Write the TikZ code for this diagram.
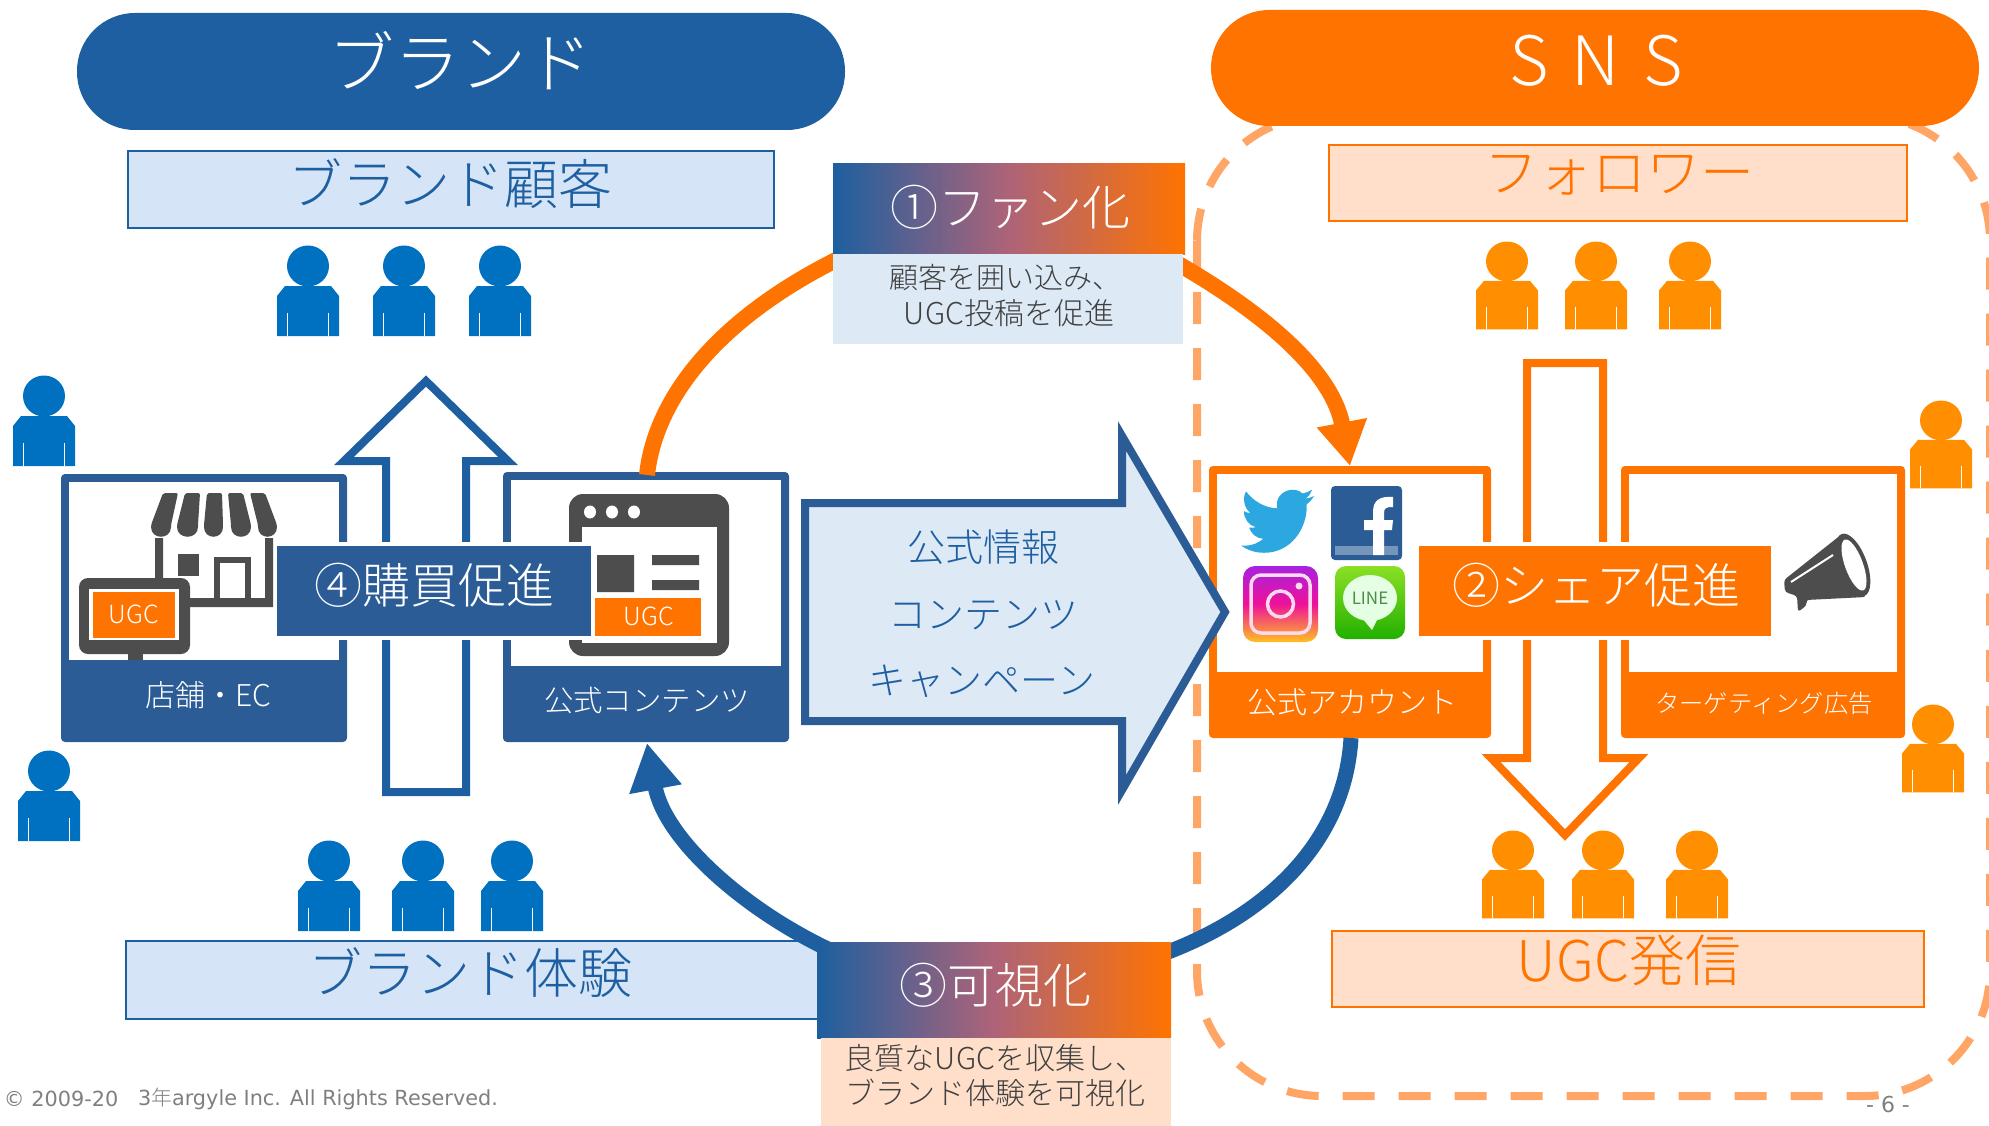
\documentclass[tikz,border=0pt]{standalone}
\usepackage{fontspec}
\setmainfont{Noto Sans CJK JP Light}
\newfontfamily\latinfoot{DejaVu Sans}
\newfontfamily\boldjp{Noto Sans CJK JP}
\usetikzlibrary{arrows.meta}
\definecolor{brandblue}{HTML}{1D5FA0}
\definecolor{boxblue}{HTML}{2C5C96}
\definecolor{brandorange}{HTML}{FF7300}
\definecolor{gradmid}{HTML}{AE6378}
\definecolor{lightblue}{HTML}{D5E5F7}
\definecolor{paleblue}{HTML}{DDE9F5}
\definecolor{lightorange}{HTML}{FFDFC9}
\definecolor{personblue}{HTML}{0070C0}
\definecolor{personorange}{HTML}{FF8F00}
\definecolor{dashorange}{HTML}{FFA566}
\definecolor{icongrey}{HTML}{4D4D4D}
\definecolor{textgrey}{HTML}{404040}
\definecolor{footgrey}{HTML}{7F7F7F}
\definecolor{twblue}{HTML}{2CA7E0}
\newcommand{\sz}[1]{\fontsize{#1}{#1}\selectfont}
\newcommand{\personfig}[4]{%
  \begin{scope}[shift={(#1,#2)},yscale=#4]
    \fill[#3] (0,20) ellipse (21 and 20.5);
    \fill[#3] (-23,40) -- (23,40) -- (31,50) -- (31,90) -- (-31,90) -- (-31,50) -- cycle;
    \draw[white,line width=1.6] (-20.5,67) -- (-20.5,90) (20.5,67) -- (20.5,90);
  \end{scope}}
\tikzset{
  box/.style={rectangle,inner sep=0,outer sep=0},
  txt/.style={inner sep=0,outer sep=0,align=center},
  banner/.style={box,rounded corners=58},
  frame/.style={box,rounded corners=4},
  inner/.style={box,fill=white},
  hollow/.style={line width=8,miter limit=10,line join=miter},
  flowo/.style={line width=16,brandorange},
  flowb/.style={line width=15,brandblue},
  gradbox/.style={box,left color=brandblue,right color=brandorange,middle color=gradmid},
}
\begin{document}
\begin{tikzpicture}[x=1pt,y=-1pt]
\useasboundingbox (0,0) rectangle (1989,1126);
% dashed region
\draw[dashorange,line width=8,dash pattern=on 32 off 24,dash phase=5,rounded corners=125] (1197,116) rectangle (1990,1096);
% banners
\node[banner,fill=brandblue,minimum width=768,minimum height=117] (bb) at (461,71.5) {};
\node[txt,white,font=\sz{66}] (bbt) at (460,61) {ブランド};
\node[banner,fill=brandorange,minimum width=768,minimum height=116] (sb) at (1595,68) {};
\node[txt,white,font=\sz{68}] (sbt) at (1596,61) {S\ \hspace{8pt}N\ \hspace{8pt}S};
% audience boxes
\node[box,draw=brandblue,line width=2.5,fill=lightblue,minimum width=646,minimum height=77] (cust) at (451,189.5) {};
\node[txt,brandblue,font=\sz{54}] at (450,184) {ブランド顧客};
\node[box,draw=brandorange,line width=2.5,fill=lightorange,minimum width=578,minimum height=76] (foll) at (1618,183) {};
\node[txt,brandorange,font=\sz{54}] at (1619,175) {フォロワー};
\node[box,draw=brandblue,line width=2.5,fill=lightblue,minimum width=692,minimum height=78] (exper) at (472,980) {};
\node[txt,brandblue,font=\sz{54}] at (470,973) {ブランド体験};
\node[box,draw=brandorange,line width=2.5,fill=lightorange,minimum width=592,minimum height=76] (ugc) at (1628,969) {};
\node[txt,brandorange,font=\sz{56}] at (1629,960) {UGC発信};
% persons
\personfig{308}{246}{personblue}{1}\personfig{404}{246}{personblue}{1}\personfig{500}{246}{personblue}{1}
\personfig{44}{376}{personblue}{1}\personfig{49}{751}{personblue}{1}
\personfig{329}{841}{personblue}{1}\personfig{423}{841}{personblue}{1}\personfig{512}{841}{personblue}{1}
\personfig{1507}{242}{personorange}{.97}\personfig{1596}{242}{personorange}{.97}\personfig{1690}{242}{personorange}{.97}
\personfig{1941}{401}{personorange}{.97}\personfig{1933}{705}{personorange}{.97}
\personfig{1513}{831}{personorange}{.97}\personfig{1603}{831}{personorange}{.97}\personfig{1697}{831}{personorange}{.97}
% hollow arrows
\draw[hollow,draw=brandblue,fill=white] (386,792) -- (386,461) -- (344,461) -- (426,381) -- (508,461) -- (466,461) -- (466,792) -- cycle;
\draw[hollow,draw=brandorange,fill=white] (1527,363) -- (1603,363) -- (1603,758) -- (1639,758) -- (1565,835) -- (1491,758) -- (1527,758) -- cycle;
% store frame
\node[frame,fill=boxblue,minimum width=286,minimum height=268] (store) at (204,608) {};
\node[inner,minimum width=270,minimum height=178] (storein) at (204,571) {};
\node[txt,white,font=\sz{30}] (storet) at (208,695) {店舗・EC};
% store icon
\fill[icongrey] (163,538) rectangle (155,600) (265,538) rectangle (273,600) (155,598) rectangle (273,607);
\fill[icongrey] (178,554) rectangle (199,576);
\fill[icongrey] (214,557) rectangle (251,600);
\fill[white] (220,563) rectangle (245,598);
\foreach \xa/\xb/\xc/\xd in {163/178/151/171,185/200/177/198,207/222/204/223,228/243/231/251,250/265/258/277}{
  \fill[icongrey,rounded corners=2] (\xa,493) -- (\xb,493) -- (\xd,525) .. controls (\xd,540) and (\xc,540) .. (\xc,525) -- cycle;
}
\fill[icongrey] (128,650) rectangle (143,660);
\fill[icongrey,rounded corners=9] (79,578) rectangle (190,654);
\fill[white] (89,589) rectangle (179,640);
\node[box,fill=brandorange,minimum width=82,minimum height=46] (ugca) at (134,615) {};
\node[txt,white,font=\sz{25}] at (134,614) {UGC};
% official contents frame
\node[frame,fill=boxblue,minimum width=286,minimum height=270] (web) at (646,607) {};
\node[inner,minimum width=270,minimum height=186] (webin) at (646,573) {};
\node[txt,white,font=\sz{29.4}] (webt) at (647,700) {公式コンテンツ};
\fill[icongrey,rounded corners=14] (569,494) rectangle (729,656);
\fill[white] (582,527) rectangle (717,643);
\foreach \cx in {590,612,634}{\fill[white] (\cx,512) ellipse (6 and 6.5);}
\fill[icongrey] (597,555) rectangle (634,592) (652,555) rectangle (699,565) (652,580) rectangle (699,590);
% official account frame
\node[frame,fill=brandorange,minimum width=282,minimum height=272] (acct) at (1350,602) {};
\node[inner,minimum width=266,minimum height=198] (acctin) at (1350,573) {};
\node[txt,white,font=\sz{30}] (acctt) at (1352,702) {公式アカウント};
% targeting frame
\node[frame,fill=brandorange,minimum width=284,minimum height=272] (targ) at (1763,602) {};
\node[inner,minimum width=268,minimum height=198] (targin) at (1763,573) {};
\node[txt,white,font=\sz{24.3}] (targt) at (1764,703) {ターゲティング広告};
% twitter
\begin{scope}[shift={(1241,481)},x=3.05pt,y=-3.3pt]
\fill[twblue] (23.95,4.57) .. controls (23,5) and (22,5.2) .. (21.13,5.34) .. controls (22.2,4.7) and (22.9,3.7) .. (23.29,2.62) .. controls (22.3,3.2) and (21.3,3.6) .. (20.16,3.8) .. controls (18,1.5) and (11,2.5) .. (11.78,8.28) .. controls (7.7,8.1) and (4.07,6.13) .. (1.64,3.16) .. controls (0.4,5.2) and (1,8.3) .. (3.16,9.73) .. controls (2.4,9.7) and (1.6,9.5) .. (0.93,9.12) -- (0.93,9.18) .. controls (1,11.5) and (2.6,13.5) .. (4.88,14.01) .. controls (4.2,14.2) and (3.4,14.2) .. (2.66,14.09) .. controls (3.3,16) and (5.1,17.4) .. (7.26,17.51) .. controls (5.2,19.2) and (2.5,19.8) .. (0,19.54) .. controls (2.2,21) and (4.8,21.75) .. (7.55,21.75) .. controls (16.6,21.75) and (21.55,14.25) .. (21.55,7.75) -- (21.54,7.12) .. controls (22.5,6.4) and (23.3,5.5) .. (23.95,4.57) -- cycle;
\end{scope}
% facebook
\fill[boxblue,rounded corners=4] (1331,486) rectangle (1402,560);
\fill[boxblue!65!white] (1335,546) rectangle (1398,555);
\fill[white] (1373,555) -- (1373,530) -- (1364,530) -- (1364,520) -- (1373,520) -- (1373,512) .. controls (1373,500) and (1380,496) .. (1393,497) -- (1393,507) .. controls (1386,507) and (1384,508) .. (1384,513) -- (1384,520) -- (1393,520) -- (1392,530) -- (1384,530) -- (1384,555) -- cycle;
% instagram
\definecolor{igtop}{HTML}{A822E0}
\definecolor{igmid}{HTML}{EE1199}
\definecolor{igbot}{HTML}{FFC020}
\shade[top color=igtop,bottom color=igbot,middle color=igmid,rounded corners=12] (1243,566) rectangle (1318,642);
\draw[white!85!magenta,line width=3.5,rounded corners=10] (1251,575) rectangle (1310,633);
\draw[white!85!magenta,line width=3.5] (1280.5,604) circle (13);
\fill[white!85!magenta] (1299,586) circle (3.5);
% line
\definecolor{linetop}{HTML}{8BE024}
\definecolor{linebot}{HTML}{22B000}
\shade[top color=linetop,bottom color=linebot,rounded corners=11] (1335,566) rectangle (1405,639);
\fill[white!90!green] (1370,598) ellipse (27 and 23);
\fill[white!90!green] (1362,618) -- (1378,618) -- (1372,630) -- cycle;
\node[txt,font=\boldjp\sz{17},text=green!35!black!70!white] (linet) at (1370,598) {LINE};
% megaphone
\fill[icongrey,rounded corners=3] (1842,534) -- (1784,580) -- (1785,592) -- (1797,596) -- (1798,612) -- (1807,605) -- (1806,600) -- (1866,597) -- cycle;
\fill[icongrey] (1853,565) ellipse [x radius=14,y radius=33,rotate=20];
\fill[white] (1854,565) ellipse [x radius=9,y radius=27,rotate=20];
\draw[white,line width=2] (1791,582) -- (1833,555);
% fan/visualise cycle
\coordinate (o1) at (647,475);
\coordinate (o2) at (840,258);
\coordinate (o3) at (1175,262);
\coordinate (o4) at (1350,466);
\coordinate (b1) at (1351,738);
\coordinate (b2) at (1160,955);
\coordinate (b3) at (830,950);
\coordinate (b4) at (647,743);
\draw[flowo] (o1) .. controls (655,400) and (715,320) .. (o2);
\draw[flowo,-{Triangle[length=44,width=48]}] (o3) .. controls (1250,305) and (1331,365) .. (o4);
\draw[flowb] (b1) .. controls (1345,840) and (1270,915) .. (b2);
\draw[flowb,-{Triangle[length=47,width=50]}] (b3) .. controls (745,910) and (665,840) .. (b4);
% big arrow
\draw[hollow,draw=boxblue,fill=paleblue] (805,503) -- (1122,503) -- (1122,436) -- (1225,612) -- (1122,790) -- (1122,721) -- (805,721) -- cycle;
\node[txt,brandblue,font=\sz{38}] (c1) at (983,547) {公式情報};
\node[txt,brandblue,font=\sz{38}] (c2) at (983,615) {コンテンツ};
\node[txt,brandblue,font=\sz{38}] (c3) at (982,681) {キャンペーン};
% step labels
\node[box,fill=white,minimum width=322,minimum height=98] at (436,591) {};
\node[box,fill=boxblue,minimum width=314,minimum height=90] (s4) at (434,591) {};
\node[txt,white,font=\sz{48}] at (434,585) {④購買促進};
\node[box,fill=brandorange,minimum width=106,minimum height=38] (ugcb) at (648,617) {};
\node[txt,white,font=\sz{25}] at (649,616) {UGC};
\node[box,fill=white,minimum width=360,minimum height=98] at (1595,591) {};
\node[box,fill=brandorange,minimum width=352,minimum height=90] (s2) at (1595,591) {};
\node[txt,white,font=\sz{48}] at (1596,585) {②シェア促進};
\node[gradbox,minimum width=352,minimum height=90] (s1) at (1009,209) {};
\node[txt,white,font=\sz{48}] at (1010,207) {①ファン化};
\node[box,fill=paleblue,minimum width=350,minimum height=90] (s1b) at (1008,299) {};
\node[txt,textgrey,font=\sz{29}] at (1005,278) {顧客を囲い込み、};
\node[txt,textgrey,font=\sz{30}] at (1009,313) {UGC投稿を促進};
\node[gradbox,minimum width=354,minimum height=96] (s3) at (994,990) {};
\node[txt,white,font=\sz{48}] at (995,985) {③可視化};
\node[box,fill=lightorange,minimum width=350,minimum height=88] (s3b) at (996,1082) {};
\node[txt,textgrey,font=\sz{30}] at (995,1058) {良質なUGCを収集し、};
\node[txt,textgrey,font=\sz{30}] at (995,1093) {ブランド体験を可視化};
% footer
\node[txt,footgrey,font=\latinfoot\sz{20.8},anchor=west] (f1) at (4,1098.5) {© 2009-20};
\node[txt,footgrey,font=\latinfoot\sz{20.8},anchor=west] (f2) at (138,1098.5) {3{\normalfont 年}argyle Inc. All Rights Reserved.};
\node[txt,footgrey,font=\latinfoot\sz{22}] (pg) at (1888,1104) {- 6 -};
\end{tikzpicture}
\end{document}
